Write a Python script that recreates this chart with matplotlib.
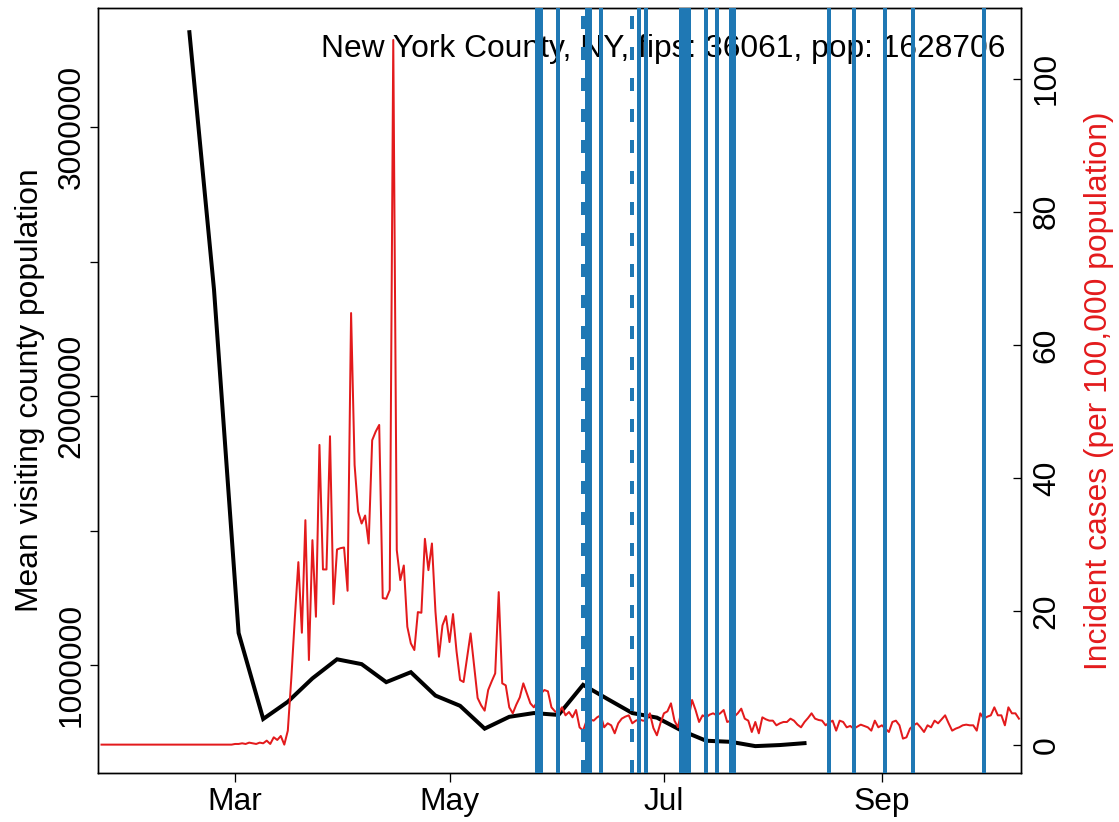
import numpy as np
import pandas as pd
import matplotlib
matplotlib.use("Agg")
import matplotlib.pyplot as plt
import matplotlib.dates as mdates

plt.rcParams["font.family"] = ["Liberation Sans", "DejaVu Sans"]
plt.rcParams["font.size"] = 22.9

title_text = "New York County, NY, fips: 36061, pop: 1628706"
left_label = "Mean visiting county population"
right_label = "Incident cases (per 100,000 population)"

# weekly mean visiting county population (Mondays from 2020-02-17)
visit_start = "2020-02-17"
visit_pop = [3354000, 2397000, 1119000, 799000, 863000, 950000, 1021000,
             1003000, 936000, 973000, 886000, 848000, 763000, 807000,
             821000, 814000, 926000, 873000, 821000, 804000, 756000,
             718000, 714000, 698000, 702000, 709000]

# daily incident cases per 100k, 2020-01-23 .. 2020-02-29 then from 2020-03-01
cases_start = "2020-01-23"
cases_pre = [0.0] * 38
cases_mar_on = [
    0.1, 0.1, 0.2, 0.1, 0.3, 0.2, 0.1, 0.3, 0.2, 0.6,
    0.1, 1.1, 0.7, 1.3, 0.0, 2.1, 10.0, 19.0, 27.4, 16.8,
    33.7, 12.7, 30.7, 19.2, 45.0, 26.3, 26.3, 46.3, 21.1, 29.3,
    29.5, 29.6, 23.1, 64.8, 42.0, 35.0, 33.2, 34.4, 30.2, 45.7,
    47.0, 48.0, 22.0, 21.9, 23.2, 105.8, 29.2, 24.7, 26.9, 17.7,
    15.2, 14.2, 19.9, 19.8, 30.9, 26.2, 30.2, 20.0, 13.2, 17.9,
    19.3, 15.4, 19.6, 14.0, 9.7, 9.4, 13.0, 16.7, 11.9, 7.0,
    5.9, 5.1, 8.2, 9.5, 10.7, 22.9, 9.2, 8.9, 5.6, 4.7,
    6.0, 7.1, 9.2, 7.7, 6.2, 5.6, 6.5, 7.7, 8.2, 8.0,
    5.6, 5.0, 4.7, 5.6, 4.4, 4.9, 4.1, 5.2, 2.6, 2.1,
    3.6, 3.8, 3.6, 4.1, 4.4, 2.6, 3.2, 2.9, 1.7, 3.2,
    3.9, 4.2, 4.4, 3.2, 3.6, 3.8, 3.6, 3.6, 4.7, 2.5,
    1.4, 3.2, 4.7, 5.0, 6.2, 3.6, 2.6, 5.2, 1.1, 4.0,
    6.7, 5.2, 3.4, 4.4, 4.1, 4.5, 4.7, 4.4, 4.7, 5.2,
    3.4, 3.6, 4.2, 4.7, 5.4, 3.9, 3.6, 1.9, 3.4, 1.7,
    4.1, 3.8, 3.6, 3.6, 2.9, 3.2, 3.4, 3.4, 3.9, 3.6,
    3.0, 2.6, 3.4, 4.0, 4.7, 3.9, 3.7, 3.6, 2.9, 3.3,
    3.6, 2.1, 3.6, 3.4, 2.6, 2.8, 2.4, 2.7, 3.0, 2.8,
    2.6, 2.1, 3.6, 2.6, 2.9, 2.4, 1.9, 3.4, 3.6, 2.9,
    0.9, 1.1, 2.4, 2.9, 3.2, 2.6, 1.9, 2.9, 2.6, 3.6,
    3.2, 3.8, 4.4, 3.2, 2.1, 2.4, 2.6, 2.9, 3.0, 2.9,
    2.9, 2.1, 4.7, 3.9, 4.2, 4.4, 5.6, 4.4, 4.4, 2.9,
    5.6, 4.7, 4.7, 3.9,
]
cases = cases_pre + cases_mar_on

# event dates
solid_events = ["2020-05-26", "2020-05-27", "2020-06-01", "2020-06-09",
                "2020-06-10", "2020-06-13", "2020-06-24", "2020-06-26",
                "2020-07-06", "2020-07-07", "2020-07-08", "2020-07-13",
                "2020-07-16", "2020-07-20", "2020-07-21", "2020-08-17",
                "2020-08-24", "2020-09-02", "2020-09-10", "2020-09-30"]
dashed_events = ["2020-06-08", "2020-06-22"]

month_ticks = ["2020-03-01", "2020-05-01", "2020-07-01", "2020-09-01"]
month_labels = ["Mar", "May", "Jul", "Sep"]

pop_ticks = [1000000, 1500000, 2000000, 2500000, 3000000]
pop_labels = ["1000000", "", "2000000", "", "3000000"]
case_ticks = [0, 20, 40, 60, 80, 100]

red = "#E31A1C"
blue = "#1F78B4"
px = 72 / 100  # points per pixel


def main():
    fig = plt.figure(figsize=(11.19, 8.22), dpi=100)
    ax = fig.add_axes([98 / 1119, 1 - 773 / 822, 922.7 / 1119, 765 / 822])
    ax2 = ax.twinx()

    visit_dates = pd.date_range(visit_start, periods=len(visit_pop), freq="7D")
    case_dates = pd.date_range(cases_start, periods=len(cases), freq="D")

    ax.plot(visit_dates, visit_pop, color="black", lw=4 * px, solid_joinstyle="miter")
    ax2.plot(case_dates, cases, color=red, lw=2 * px)

    for d in solid_events:
        ax2.axvline(pd.Timestamp(d), color=blue, lw=4 * px, zorder=5)
    for d in dashed_events:
        ax2.axvline(pd.Timestamp(d), color=blue, lw=4 * px, zorder=5,
                    linestyle=(0, (13 / 4, 18 / 4)))

    ax2.text(0.983, 0.9366, title_text, transform=ax2.transAxes,
             ha="right", va="baseline", zorder=4)

    x0 = pd.Timestamp("2020-03-01") - pd.Timedelta(days=39)
    x1 = pd.Timestamp("2020-03-01") + pd.Timedelta(days=223.5)
    ax.set_xlim(x0, x1)
    ax.set_ylim(598000, 3444000)
    ax2.set_ylim(-4.26, 110.6)

    ax.set_xticks([pd.Timestamp(t) for t in month_ticks])
    ax.set_xticklabels(month_labels)
    ax.set_yticks(pop_ticks)
    ax.set_yticklabels(pop_labels, rotation=90, va="center")
    ax2.set_yticks(case_ticks)
    ax2.set_yticklabels([str(t) for t in case_ticks], rotation=90, va="center")

    ax.tick_params(axis="x", direction="out", length=9 * px, width=1.3 * px, pad=3.5)
    ax.tick_params(axis="y", direction="out", length=8 * px, width=1.3 * px, pad=2.5)
    ax2.tick_params(axis="y", direction="in", length=8 * px, width=1.3 * px, pad=8)

    for a in (ax, ax2):
        for s in a.spines.values():
            s.set_linewidth(1.4 * px)

    ax.set_ylabel(left_label)
    ax.yaxis.set_label_coords((45 - 98) / 922.7, 0.5)
    ax2.set_ylabel(right_label, color=red, rotation=90)
    ax2.yaxis.set_label_coords((1084 - 98) / 922.7, 0.5)

    fig.savefig("out.png", dpi=100)


if __name__ == "__main__":
    main()
